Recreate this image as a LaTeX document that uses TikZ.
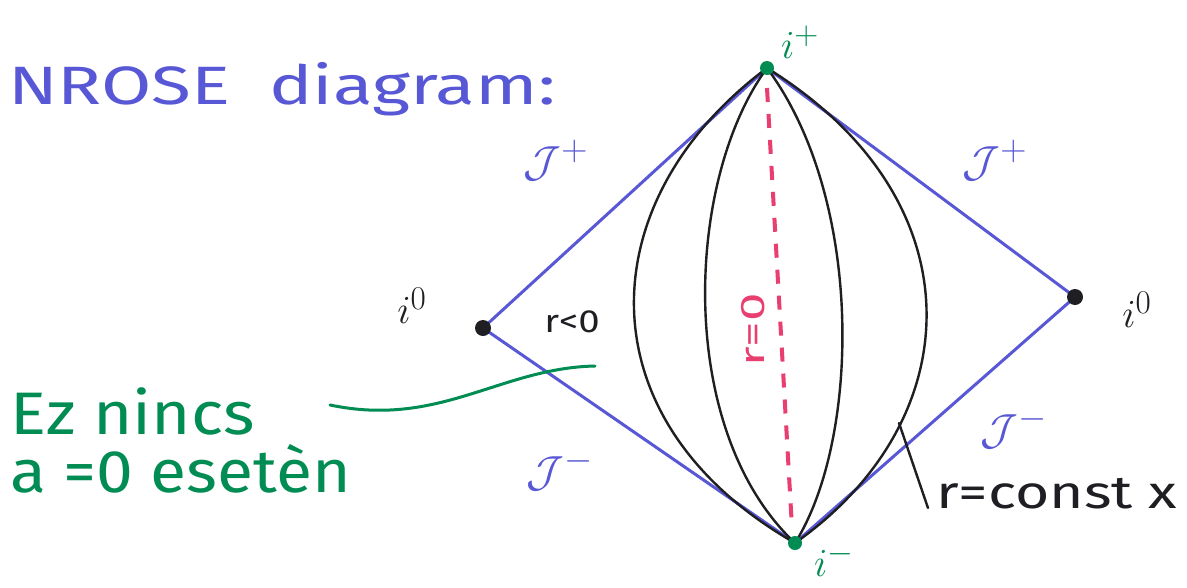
\documentclass[tikz,border=0pt]{standalone}
\usepackage{fontspec}
\setmainfont{Fira Sans}
\definecolor{penblue}{RGB}{88,88,214}
\definecolor{pengreen}{RGB}{0,140,82}
\definecolor{penpink}{RGB}{232,62,112}
\definecolor{penblack}{RGB}{30,30,35}
\begin{document}
\begin{tikzpicture}[x=1pt,y=-1pt,
  bluel/.style={draw=penblue,line width=3pt,line cap=round},
  worldline/.style={draw=penblack,line width=2.4pt,line cap=round},
  blackdot/.style={circle,fill=penblack,inner sep=0pt,minimum size=16pt},
  greendot/.style={circle,fill=pengreen,inner sep=0pt,minimum size=14pt},
  scri/.style={text=penblue,font=\Huge},
  lbl/.style={inner sep=0pt,anchor=center},
]
\path[use as bounding box] (0,0) rectangle (1187,587);
\clip (0,0) rectangle (1187,587);
\fill[white] (0,0) rectangle (1187,587);

% vertices
\coordinate (T) at (767,68);
\coordinate (L) at (483,328);
\coordinate (R) at (1075,297);
\coordinate (B) at (795,543);

% diamond
\draw[bluel] (T) -- (L) -- (B) -- (R) -- (T);

% r = const curves
\draw[worldline] (T) .. controls (590,200) and (580,420) .. (B);
\draw[worldline] (T) .. controls (685,180) and (675,430) .. (B);
\draw[worldline] (T) .. controls (865,200) and (860,440) .. (B);
\draw[worldline] (T) .. controls (980,200) and (970,420) .. (B);

% dots on top
\node[greendot] (Tn) at (T) {};
\node[blackdot] (Ln) at (L) {};
\node[blackdot] (Rn) at (R) {};
\node[greendot] (Bn) at (B) {};

% r = 0 dashed
\coordinate (rtop) at (767,88);
\coordinate (rbot) at (792,528);
\draw[draw=penpink,line width=4pt,dash pattern=on 14pt off 12pt] (rtop) -- (rbot);
\node[lbl,text=penpink,rotate=90,font=\fontsize{34}{34}\selectfont] (r0) at (753,330) {\scalebox{1.5}[1]{r=0}};

% vertex labels
\node[lbl,text=pengreen,font=\Huge] (ip) at (800,42) {\scalebox{1.6}{$i^+$}};
\node[lbl,text=pengreen,font=\Huge] (im) at (834,560) {\scalebox{1.6}{$i^-$}};
\node[lbl,text=penblack,font=\Huge] (i0l) at (412,306) {\scalebox{1.6}{$i^0$}};
\node[lbl,text=penblack,font=\Huge] (i0r) at (1137,310) {\scalebox{1.6}{$i^0$}};

% scri labels
\node[lbl,scri] (jpl) at (556,160) {\scalebox{1.75}{$\mathcal{J}^+$}};
\node[lbl,scri] (jpr) at (995,160) {\scalebox{1.75}{$\mathcal{J}^+$}};
\node[lbl,scri] (jml) at (560,470) {\scalebox{1.75}{$\mathcal{J}^-$}};
\node[lbl,scri] (jmr) at (1014,428) {\scalebox{1.75}{$\mathcal{J}^-$}};

% r<0
\node[lbl,text=penblack,font=\fontsize{32}{32}\selectfont] (rneg) at (572,322) {\scalebox{1.2}[1]{r<0}};

% title
\node[anchor=base west,inner sep=0pt,text=penblue,font=\fontsize{54}{54}\selectfont] (title) at (8,104) {\scalebox{1.35}[1]{NROSE\ \ diagram:}};

% green note
\node[anchor=base west,inner sep=0pt,text=pengreen,font=\fontsize{60}{60}\selectfont] (ez) at (10,434) {\scalebox{1.12}[1]{Ez nincs}};
\node[anchor=base west,inner sep=0pt,text=pengreen,font=\fontsize{60}{60}\selectfont] (aeq) at (10,492) {\scalebox{1.1}[1]{a =0 esetèn}};
\coordinate (gstart) at (330,405);
\coordinate (gend) at (595,366);
\draw[draw=pengreen,line width=3pt,line cap=round] (gstart) .. controls (440,428) and (500,368) .. (gend);

% r = const marker
\coordinate (tk1) at (899,423);
\coordinate (tk2) at (928,508);
\draw[worldline] (tk1) -- (tk2);
\node[anchor=base west,inner sep=0pt,text=penblack,font=\fontsize{46}{46}\selectfont] (rconst) at (936,508) {\scalebox{1.28}[1]{r=const x}};
\end{tikzpicture}
\end{document}
